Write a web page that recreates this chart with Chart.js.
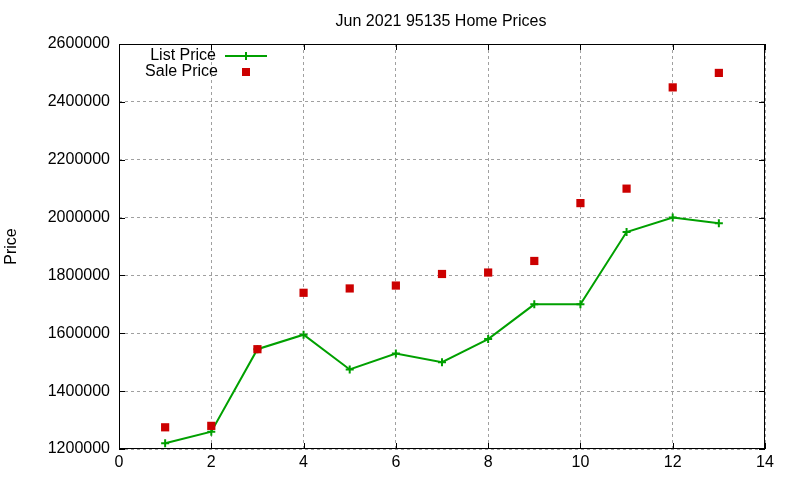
<!DOCTYPE html>
<html>
<head>
<meta charset="utf-8">
<title>Jun 2021 95135 Home Prices</title>
<script src="https://cdn.jsdelivr.net/npm/chart.js@4"></script>
<style>
  body { margin: 0; background: #fff; }
  canvas { display: block; }
</style>
</head>
<body>
<canvas id="priceChart" width="800" height="480"></canvas>
<script>
// data
const months = [1, 2, 3, 4, 5, 6, 7, 8, 9, 10, 11, 12, 13];
const listPrice = [1220000, 1260000, 1545000, 1595000, 1475000, 1530000, 1500000, 1580000, 1700000, 1700000, 1950000, 2000000, 1980000];
const salePrice = [1275000, 1280000, 1545000, 1740000, 1755000, 1765000, 1805000, 1810000, 1850000, 2050000, 2100000, 2450000, 2500000];
const xTicks = [0, 2, 4, 6, 8, 10, 12, 14];
const yTicks = [1200000, 1400000, 1600000, 1800000, 2000000, 2200000, 2400000, 2600000];

const FONT = "'Liberation Sans', Arial, sans-serif";
const GREEN = "#00a000";
const RED = "#cc0000";

function toPoints(values) {
    return months.map((m, i) => ({ x: m, y: values[i] }));
}

// gnuplot style frame: full border, inward ticks on all sides, title and key
const frame = {
    id: "frame",
    afterDraw(chart) {
        const ctx = chart.ctx;
        const a = chart.chartArea;
        const xs = chart.scales.x;
        const ys = chart.scales.y;
        ctx.save();
        ctx.strokeStyle = "#000";
        ctx.lineWidth = 1;
        ctx.strokeRect(a.left + 0.5, a.top + 0.5, a.right - a.left - 1, a.bottom - a.top - 1);
        ctx.beginPath();
        const tl = 6;
        xTicks.forEach(v => {
            const px = Math.round(xs.getPixelForValue(v)) + 0.5;
            ctx.moveTo(px, a.bottom); ctx.lineTo(px, a.bottom - tl);
            ctx.moveTo(px, a.top); ctx.lineTo(px, a.top + tl);
        });
        yTicks.forEach(v => {
            const py = Math.round(ys.getPixelForValue(v)) + 0.5;
            ctx.moveTo(a.left, py); ctx.lineTo(a.left + tl, py);
            ctx.moveTo(a.right, py); ctx.lineTo(a.right - tl, py);
        });
        ctx.stroke();

        // title
        ctx.fillStyle = "#000";
        ctx.font = "16px " + FONT;
        ctx.textAlign = "center";
        ctx.textBaseline = "middle";
        ctx.fillText("Jun 2021 95135 Home Prices", (a.left + a.right) / 2 - 1, 22);

        // key
        ctx.textAlign = "right";
        ctx.fillText("List Price", 216, 56);
        ctx.fillText("Sale Price", 218, 72);
        ctx.strokeStyle = GREEN;
        ctx.lineWidth = 2;
        ctx.beginPath();
        ctx.moveTo(225, 56); ctx.lineTo(267, 56);
        ctx.moveTo(246, 52); ctx.lineTo(246, 60);
        ctx.stroke();
        ctx.fillStyle = RED;
        ctx.fillRect(242, 68, 8, 8);
        ctx.restore();
    }
};

new Chart(document.getElementById("priceChart"), {
    type: "scatter",
    data: {
        datasets: [
            {
                label: "List Price",
                data: toPoints(listPrice),
                showLine: true,
                borderColor: GREEN,
                backgroundColor: GREEN,
                borderWidth: 2,
                pointStyle: "cross",
                pointRadius: 4,
                pointBorderWidth: 2,
                pointBorderColor: GREEN,
                order: 1
            },
            {
                label: "Sale Price",
                data: toPoints(salePrice),
                showLine: false,
                backgroundColor: RED,
                borderColor: RED,
                pointStyle: "rect",
                pointRadius: 5.8,
                pointBorderWidth: 0,
                order: 0
            }
        ]
    },
    options: {
        responsive: false,
        animation: false,
        layout: { padding: { left: 0, right: 35, top: 44, bottom: 0 } },
        plugins: {
            legend: { display: false },
            title: { display: false },
            tooltip: { enabled: false }
        },
        scales: {
            x: {
                type: "linear",
                min: 0,
                max: 14,
                afterFit: s => { s.height = 31; },
                afterBuildTicks: s => { s.ticks = xTicks.map(v => ({ value: v })); },
                ticks: { color: "#000", font: { family: FONT, size: 16 }, padding: 4, maxRotation: 0, callback: v => String(v) },
                grid: { color: "#a0a0a0", drawTicks: false },
                border: { display: false, dash: [3, 3] }
            },
            y: {
                type: "linear",
                min: 1200000,
                max: 2600000,
                afterFit: s => { s.width = 119; },
                afterBuildTicks: s => { s.ticks = yTicks.map(v => ({ value: v })); },
                ticks: { color: "#000", font: { family: FONT, size: 16 }, padding: 9, callback: v => String(v) },
                grid: { color: "#a0a0a0", drawTicks: false },
                border: { display: false, dash: [3, 3] },
                title: { display: true, text: "Price", color: "#000", font: { family: FONT, size: 16 }, padding: { top: 2, bottom: 0 } }
            }
        }
    },
    plugins: [frame]
});
</script>
</body>
</html>
